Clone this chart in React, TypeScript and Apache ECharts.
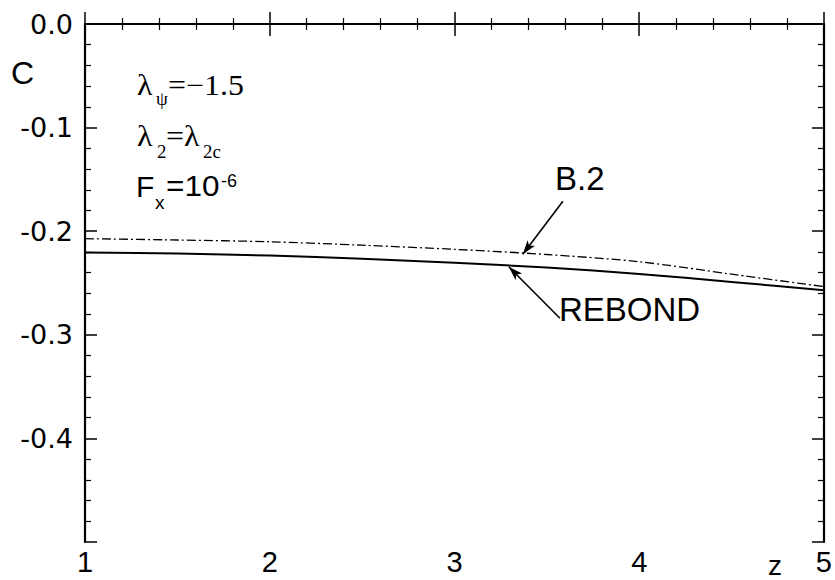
import React, { useEffect, useRef } from "react";
import * as echarts from "echarts";

// Position along the channel
const zValues = [1, 1.5, 2, 2.5, 3, 3.5, 4, 4.5, 5];
// Coefficient C for the two models
const b2Values = [-0.2072, -0.2085, -0.2102, -0.2135, -0.2175, -0.2225, -0.2295, -0.2415, -0.2535];
const rebondValues = [-0.2205, -0.2215, -0.2235, -0.2265, -0.2305, -0.235, -0.2412, -0.249, -0.257];

// Leader arrows: [tail, head] in (z, C)
const b2Arrow = [[3.587, -0.171], [3.37, -0.2222]];
const rebondArrow = [[3.571, -0.284], [3.295, -0.2345]];

const X_MIN = 1, X_MAX = 5, X_STEP = 1;
const Y_MIN = -0.5, Y_MAX = 0, Y_STEP = 0.1;

const SANS = "'Liberation Sans', Arial, sans-serif";
const SERIF = "'Liberation Serif', 'Times New Roman', serif";
const TICK_FONT = "'DejaVu Sans', sans-serif";

function label(text: string, x: number, y: number, fontSize: number, fontFamily: string, scaleX = 1) {
  return {
    type: "text",
    x,
    y,
    scaleX,
    silent: true,
    style: { text, fontSize, fontFamily, fill: "#000", align: "left", verticalAlign: "middle" },
  };
}

export default function App() {
  const ref = useRef<HTMLDivElement>(null);

  useEffect(() => {
    if (!ref.current) return;
    const chart = echarts.init(ref.current, null, { renderer: "svg" });

    const axisLine = { show: true, lineStyle: { color: "#000", width: 2.2 } };
    const axisTick = { show: true, inside: true, length: 12, lineStyle: { color: "#000", width: 1.5 } };
    const minorTick = { show: true, splitNumber: 5, length: 6, lineStyle: { color: "#000", width: 1.2 } };

    const b2Data = zValues.map((z, i) => [z, b2Values[i]]);
    const rebondData = zValues.map((z, i) => [z, rebondValues[i]]);

    const arrowLine = (pts: number[][]) => ({
      silent: true,
      symbol: ["none", "arrow"],
      symbolSize: [7, 14],
      label: { show: false },
      lineStyle: { color: "#000", width: 1.6, type: "solid" },
      data: [[{ coord: pts[0] }, { coord: pts[1] }]],
    });

    const option: any = {
      animation: false,
      backgroundColor: "#fff",
      grid: { left: 85, right: 11, top: 24, bottom: 38, containLabel: false },
      xAxis: [
        {
          type: "value",
          min: X_MIN,
          max: X_MAX,
          interval: X_STEP,
          axisLine,
          axisTick,
          minorTick,
          splitLine: { show: false },
          axisLabel: {
            margin: 5,
            fontSize: 29,
            fontFamily: SANS,
            color: "#000",
            formatter: (v: number) => String(v),
          },
        },
        {
          type: "value",
          position: "top",
          min: X_MIN,
          max: X_MAX,
          interval: X_STEP,
          axisLine,
          axisTick,
          minorTick,
          splitLine: { show: false },
          axisLabel: { show: false },
        },
      ],
      yAxis: [
        {
          type: "value",
          min: Y_MIN,
          max: Y_MAX,
          interval: Y_STEP,
          axisLine,
          axisTick,
          minorTick,
          splitLine: { show: false },
          axisLabel: {
            margin: 12,
            fontSize: 27,
            fontFamily: TICK_FONT,
            color: "#000",
            formatter: (v: number) => (Math.abs(v - Y_MIN) < 1e-9 ? "" : v.toFixed(1)),
          },
        },
        {
          type: "value",
          position: "right",
          min: Y_MIN,
          max: Y_MAX,
          interval: Y_STEP,
          axisLine,
          axisTick,
          minorTick,
          splitLine: { show: false },
          axisLabel: { show: false },
        },
      ],
      series: [
        {
          name: "B.2",
          type: "line",
          data: b2Data,
          smooth: 0.3,
          showSymbol: false,
          lineStyle: { color: "#000", width: 1.3, type: [9, 3, 2, 3] },
          markLine: arrowLine(b2Arrow),
        },
        {
          name: "REBOND",
          type: "line",
          data: rebondData,
          smooth: 0.3,
          showSymbol: false,
          lineStyle: { color: "#000", width: 2 },
          markLine: arrowLine(rebondArrow),
        },
      ],
      graphic: [
        label("C", 11, 73, 32, SANS),
        label("z", 768, 565, 28, SANS),
        // λψ = −1.5
        label("λ", 137, 85, 29, SERIF, 1.1),
        label("ψ", 156, 99, 18, SERIF, 1.05),
        label("=−1.5", 168, 85, 29, SERIF, 1.1),
        // λ2 = λ2c
        label("λ", 137, 136, 29, SERIF, 1.1),
        label("2", 157, 152, 18, SERIF, 1.05),
        label("=λ", 166, 136, 29, SERIF, 1.1),
        label("2c", 203, 152, 18, SERIF, 1.05),
        // Fx = 10^-6
        label("F", 136, 186, 30, SANS),
        label("x", 155, 202, 19, SANS),
        label("=10", 166, 186, 30, SANS, 1.05),
        label("-6", 221, 181, 18, SANS),
        // curve labels
        label("B.2", 555, 178, 33, SANS),
        label("REBOND", 559, 309, 33, SANS),
      ],
    };

    chart.setOption(option);
    return () => chart.dispose();
  }, []);

  return (
    <div
      ref={ref}
      style={{ position: "fixed", left: 0, top: 0, width: 835, height: 580, background: "#fff" }}
    />
  );
}
